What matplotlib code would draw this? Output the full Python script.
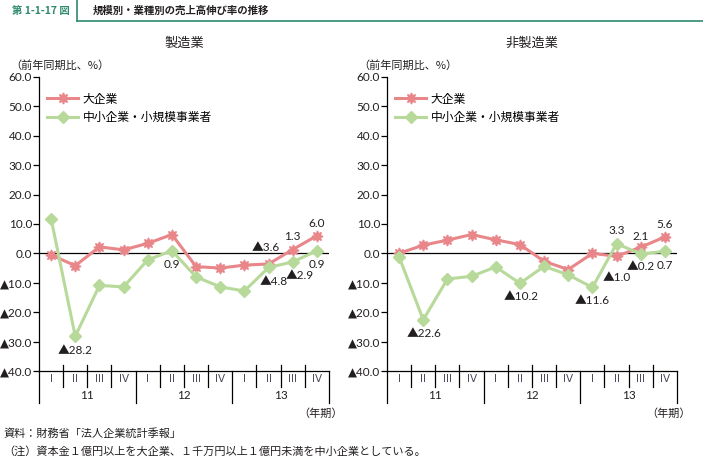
import matplotlib.pyplot as plt

plt.rcParams['font.family'] = ['Noto Sans CJK JP', 'DejaVu Sans']

# Data
quarters = ['I', 'II', 'III', 'IV'] * 3
years = ['11', '12', '13']
yticks = [60, 50, 40, 30, 20, 10, 0, -10, -20, -30, -40]

mfg_large = [-0.5, -4.2, 2.2, 1.2, 3.4, 6.4, -4.5, -5.0, -4.0, -3.6, 1.3, 6.0]
mfg_small = [11.8, -28.2, -10.9, -11.4, -2.2, 0.9, -8.0, -11.4, -12.8, -4.8, -2.9, 0.9]
non_large = [0.0, 2.8, 4.5, 6.4, 4.6, 3.0, -2.7, -5.5, 0.0, -1.0, 2.1, 5.6]
non_small = [-1.2, -22.6, -8.7, -7.8, -4.6, -10.2, -4.4, -7.3, -11.6, 3.3, -0.2, 0.7]

# labels: (x position, y position, text)
mfg_labels = [(1, -33.0, '▲28.2'), (5, -3.8, '0.9'), (8.9, 2.0, '▲3.6'),
              (10, 5.8, '1.3'), (11, 10.2, '6.0'), (11, -3.8, '0.9'),
              (9.2, -9.5, '▲4.8'), (10.3, -7.4, '▲2.9')]
non_labels = [(1.05, -27.2, '▲22.6'), (5.05, -14.5, '▲10.2'), (8.0, -16.2, '▲11.6'),
              (9.0, -8.3, '▲1.0'), (10.0, -4.6, '▲0.2'), (11.0, -4.0, '0.7'),
              (9.0, 7.9, '3.3'), (10.0, 5.9, '2.1'), (11.0, 9.9, '5.6')]

RED = '#e8868a'
GREEN = '#b7d99a'
TXT = '#231f20'
HEAD = '#2e8b6f'
NUMFONT = ['Lato', 'DejaVu Sans']
LABFONT = ['Lato', 'Noto Sans CJK JP']

fig = plt.figure(figsize=(7.03, 4.58), dpi=100)


def fmt_tick(v):
    return f'{v:.1f}' if v >= 0 else f'▲{-v:.1f}'


def draw_panel(left, title, large, small, labels):
    ax = fig.add_axes([left, 0.19, 0.4125, 0.642])
    x = list(range(12))
    ax.plot(x, large, color=RED, lw=2.2, marker=(8, 1, 0), ms=8,
            mfc=RED, mec=RED, label='大企業', zorder=3)
    ax.plot(x, small, color=GREEN, lw=2.2, marker='D', ms=6.5,
            mfc=GREEN, mec=GREEN, label='中小企業・小規模事業者', zorder=3)
    ax.axhline(0, color='black', lw=0.9, zorder=2)
    ax.set_xlim(-0.5, 11.5)
    ax.set_ylim(-40, 60)
    ax.set_yticks(yticks)
    ax.set_yticklabels([fmt_tick(v) for v in yticks], fontsize=8.5, color=TXT,
                       family=NUMFONT)
    ax.tick_params(axis='y', length=4, width=0.9, pad=1)
    ax.set_xticks([])
    for s in ['top', 'right']:
        ax.spines[s].set_visible(False)
    ax.spines['left'].set_linewidth(0.9)
    ax.spines['bottom'].set_linewidth(0.9)

    tr = ax.get_xaxis_transform()
    # quarter dividers
    for i in range(13):
        b = i - 0.5
        low = -0.11 if i % 4 == 0 else -0.054
        ax.plot([b, b], [0.02 if i % 4 else 0, low], transform=tr,
                color='black', lw=0.9, clip_on=False)
    for i, q in enumerate(quarters):
        ax.text(i, -0.026, q, transform=tr, ha='center', va='center',
                fontsize=7.5, color='#4a4a5a', family='DejaVu Sans')
    for j, yr in enumerate(years):
        ax.text(4 * j + 1.5, -0.085, yr, transform=tr, ha='center',
                va='center', fontsize=8.5, color=TXT, family=NUMFONT)
    ax.text(1.0 + 14 / 290, -0.145, '（年期）', transform=ax.transAxes,
            ha='right', va='center', fontsize=8, color=TXT)
    ax.text(-0.1, 1.04, '（前年同期比、%）', transform=ax.transAxes,
            ha='left', va='center', fontsize=8, color=TXT)
    ax.text(0.5, 1.115, title, transform=ax.transAxes, ha='center',
            va='center', fontsize=9.5, color=TXT)

    for xi, yi, t in labels:
        ax.text(xi, yi, t, ha='center', va='center', fontsize=8.5, color=TXT,
                family=LABFONT)

    ax.legend(loc='upper left', bbox_to_anchor=(0.0, 0.975), frameon=False,
              fontsize=8.5, handlelength=2.6, labelspacing=0.45,
              handletextpad=0.4, borderaxespad=0.3)
    return ax


draw_panel(39 / 703, '製造業', mfg_large, mfg_small, mfg_labels)
draw_panel(387 / 703, '非製造業', non_large, non_small, non_labels)

# header
fig.add_artist(plt.Line2D([77 / 703, 1.0], [1 - 21 / 458] * 2, color=HEAD, lw=1.2))
fig.add_artist(plt.Line2D([77 / 703] * 2, [1 - 21 / 458, 1.0], color=HEAD, lw=1.2))
fig.text(12 / 703, 1 - 11 / 458, '第 1-1-17 図', fontsize=7.5, fontweight='bold',
         color=HEAD, ha='left', va='center')
fig.text(93 / 703, 1 - 11 / 458, '規模別・業種別の売上高伸び率の推移', fontsize=7.5,
         fontweight='bold', color=TXT, ha='left', va='center')

# footer
fig.text(3 / 703, 1 - 434 / 458, '資料：財務省「法人企業統計季報」', fontsize=8,
         color=TXT, ha='left', va='center')
fig.text(3 / 703, 1 - 451 / 458,
         '（注）資本金１億円以上を大企業、１千万円以上１億円未満を中小企業としている。',
         fontsize=8, color=TXT, ha='left', va='center')

fig.savefig('out.png', dpi=100)
